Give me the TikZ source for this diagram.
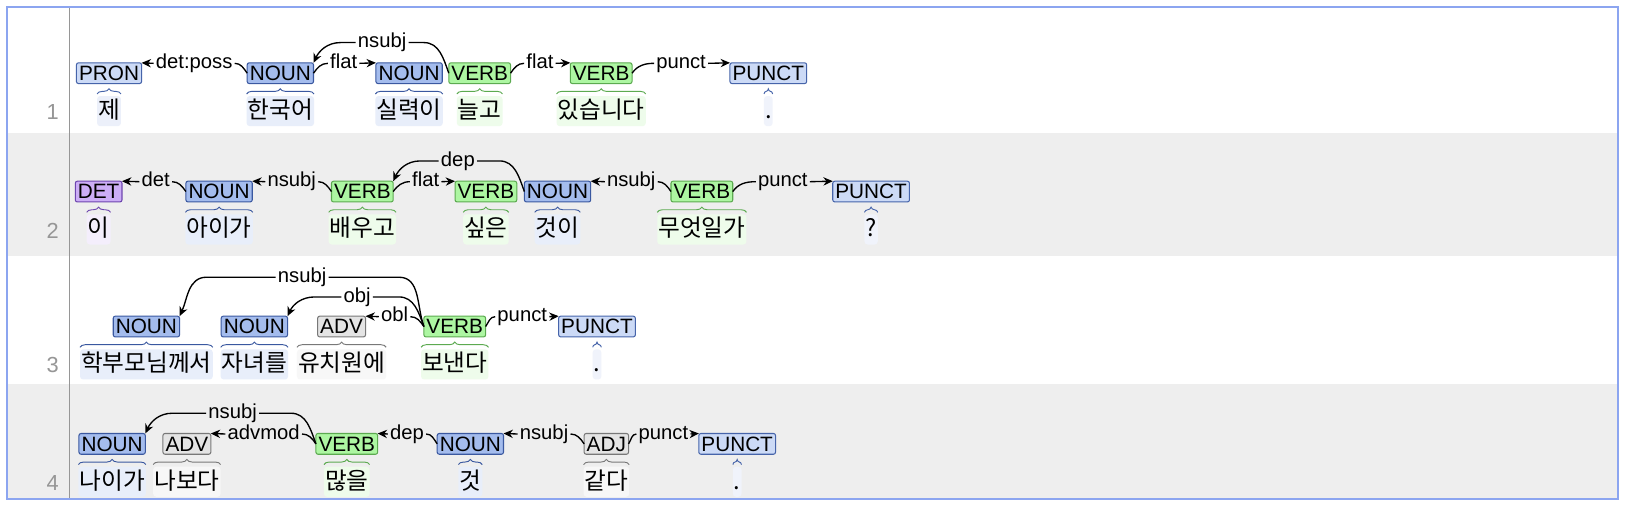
\documentclass[tikz,border=0pt]{standalone}
\usepackage{fontspec}
\usepackage{tikz}
\usetikzlibrary{positioning, arrows.meta, decorations.pathreplacing}
\setmainfont{Liberation Sans}
\newfontfamily\kofont{Noto Sans CJK KR}
\newcommand\postagfont{\fontsize{20}{20}\selectfont}
\newcommand\deprelfont{\fontsize{19.5}{20}\selectfont}
\newcommand\tokenfont{\kofont\fontsize{22.8}{23}\selectfont}
\newcommand\rownumfont{\fontsize{21}{22}\selectfont}
\definecolor{nounfill}{RGB}{164, 188, 237}
\definecolor{nounline}{RGB}{58, 88, 160}
\definecolor{nounbg}{RGB}{232, 238, 250}
\definecolor{verbfill}{RGB}{173, 246, 162}
\definecolor{verbline}{RGB}{92, 170, 80}
\definecolor{verbbg}{RGB}{238, 252, 235}
\definecolor{punctfill}{RGB}{204, 218, 246}
\definecolor{punctline}{RGB}{70, 100, 170}
\definecolor{punctbg}{RGB}{240, 243, 251}
\definecolor{pronfill}{RGB}{204, 218, 246}
\definecolor{pronline}{RGB}{70, 100, 170}
\definecolor{pronbg}{RGB}{236, 240, 250}
\definecolor{detfill}{RGB}{204, 173, 246}
\definecolor{detline}{RGB}{110, 70, 175}
\definecolor{detbg}{RGB}{244, 238, 252}
\definecolor{advfill}{RGB}{228, 228, 228}
\definecolor{advline}{RGB}{120, 120, 120}
\definecolor{advbg}{RGB}{247, 247, 247}
\definecolor{adjfill}{RGB}{228, 228, 228}
\definecolor{adjline}{RGB}{120, 120, 120}
\definecolor{adjbg}{RGB}{247, 247, 247}
\definecolor{rowgray}{RGB}{238, 238, 238}
\definecolor{framecol}{RGB}{140, 165, 240}
\definecolor{sepcol}{RGB}{150, 150, 150}
\definecolor{numcol}{RGB}{150, 150, 150}
\tikzset{
    postag/.style={draw=#1line, fill=#1fill, rounded corners=2pt, line width=1pt, inner xsep=2.5pt, inner ysep=0pt, outer sep=0pt, minimum height=20pt, text height=14pt, text depth=0pt, font=\postagfont},
    tokenbox/.style={fill=#1bg, rounded corners=3pt, inner xsep=1pt, inner ysep=3pt, outer sep=0pt, text height=18.5pt, text depth=4.5pt, font=\tokenfont},
    wordbrace/.style={draw=#1line, line width=0.9pt, decorate, decoration={brace, amplitude=5pt}},
    deprel/.style={font=\deprelfont, inner xsep=2pt, inner ysep=0pt, text height=10pt, text depth=0pt},
    arcline/.style={line width=1.3pt},
    arrowhead/.style={-{Stealth[length=9pt, width=8pt]}},
    rownum/.style={font=\rownumfont, text=numcol, anchor=east}
}
% level 1, dependent on the left of its head
\newcommand\depleft[6]{%
    \node[deprel] (#1) at (#2,#3) {#4};
    \draw[arcline] (#1.east) to[out=0, in=125] (#5.west);
    \draw[arcline, arrowhead] (#1.west) -- (#6.north east);
}
% level 1, dependent on the right of its head
\newcommand\depright[6]{%
    \node[deprel] (#1) at (#2,#3) {#4};
    \draw[arcline] (#1.west) to[out=180, in=55] (#5.east);
    \draw[arcline, arrowhead] (#1.east) -- (#6.north west);
}
% higher level, dependent on the left
\newcommand\depover[6]{%
    \node[deprel] (#1) at (#2,#3) {#4};
    \draw[arcline] (#1.east) -- ([xshift=-24pt]#5.west |- #1.east) to[out=0, in=110] (#5.west);
    \draw[arcline, arrowhead] (#1.west) -- ([xshift=26pt]#6.north east |- #1.west) to[out=180, in=65] (#6.north east);
}

\begin{document}
\begin{tikzpicture}[x=1pt, y=1pt]
    \useasboundingbox (0,0) rectangle (1568,-490);
    % rows
    \fill[white] (6.5,-6.5) rectangle (1558,-128);
    \fill[rowgray] (6.5,-128) rectangle (1558,-247);
    \fill[white] (6.5,-247) rectangle (1558,-370);
    \fill[rowgray] (6.5,-370) rectangle (1558,-481);
    \draw[sepcol, line width=1.5pt] (67,-6.5) -- (67,-481);
    \draw[framecol, line width=2pt] (6.5,-6.5) rectangle (1558,-481);
    \node[rownum] (num1) at (60,-108) {1};
    \node[rownum] (num2) at (60,-222) {2};
    \node[rownum] (num3) at (60,-352) {3};
    \node[rownum] (num4) at (60,-465) {4};
    % tokens with their tags
    \foreach \n/\x/\y/\kr/\pos/\tg in {
        1a/105/-107/제/pron/PRON, 1b/270/-107/한국어/noun/NOUN, 1c/394/-107/실력이/noun/NOUN,
        1d/462/-107/늘고/verb/VERB, 1e/579/-107/있습니다/verb/VERB, 1f/740/-107/./punct/PUNCT,
        2a/95/-221/이/det/DET, 2b/211/-221/아이가/noun/NOUN, 2c/349/-221/배우고/verb/VERB,
        2d/468/-221/싶은/verb/VERB, 2e/537/-221/것이/noun/NOUN, 2f/676/-221/무엇일가/verb/VERB,
        2g/839/-221/?/punct/PUNCT,
        3a/141/-351/학부모님께서/noun/NOUN, 3b/245/-351/자녀를/noun/NOUN, 3c/329/-351/유치원에/adv/ADV,
        3d/438/-351/보낸다/verb/VERB, 3e/575/-351/./punct/PUNCT,
        4a/108/-464/나이가/noun/NOUN, 4b/180/-464/나보다/adv/ADV, 4c/334/-464/많을/verb/VERB,
        4d/453/-464/것/noun/NOUN, 4e/584/-464/같다/adj/ADJ, 4f/710/-464/./punct/PUNCT} {
        \node[tokenbox=\pos] (w\n) at (\x,\y) {\kr};
        \node[postag=\pos, above=12pt of w\n] (t\n) {\tg};
        \draw[wordbrace=\pos] ([yshift=2pt]w\n.north west) -- ([yshift=2pt]w\n.north east);
    }
    % sentence 1
    \depleft{l1a}{187}{-61}{det:poss}{t1b}{t1a}
    \depright{l1b}{331}{-61}{flat}{t1b}{t1c}
    \depover{l1c}{368}{-41}{nsubj}{t1d}{t1b}
    \depright{l1d}{520}{-61}{flat}{t1d}{t1e}
    \depright{l1e}{656}{-61}{punct}{t1e}{t1f}
    % sentence 2
    \depleft{l2a}{150}{-175}{det}{t2b}{t2a}
    \depleft{l2b}{281}{-175}{nsubj}{t2c}{t2b}
    \depright{l2c}{410}{-175}{flat}{t2c}{t2d}
    \depover{l2d}{441}{-155}{dep}{t2e}{t2c}
    \depleft{l2e}{608}{-175}{nsubj}{t2f}{t2e}
    \depright{l2f}{754}{-175}{punct}{t2f}{t2g}
    % sentence 3
    \depover{l3a}{291}{-267}{nsubj}{t3d}{t3a}
    \depover{l3b}{344}{-286}{obj}{t3d}{t3b}
    \depleft{l3c}{380}{-305}{obl}{t3d}{t3c}
    \depright{l3d}{503}{-305}{punct}{t3d}{t3e}
    % sentence 4
    \depover{l4a}{224}{-398}{nsubj}{t4c}{t4a}
    \depleft{l4b}{254}{-418}{advmod}{t4c}{t4b}
    \depleft{l4c}{392}{-418}{dep}{t4d}{t4c}
    \depleft{l4d}{524}{-418}{nsubj}{t4e}{t4d}
    \depright{l4e}{639}{-418}{punct}{t4e}{t4f}
\end{tikzpicture}
\end{document}
